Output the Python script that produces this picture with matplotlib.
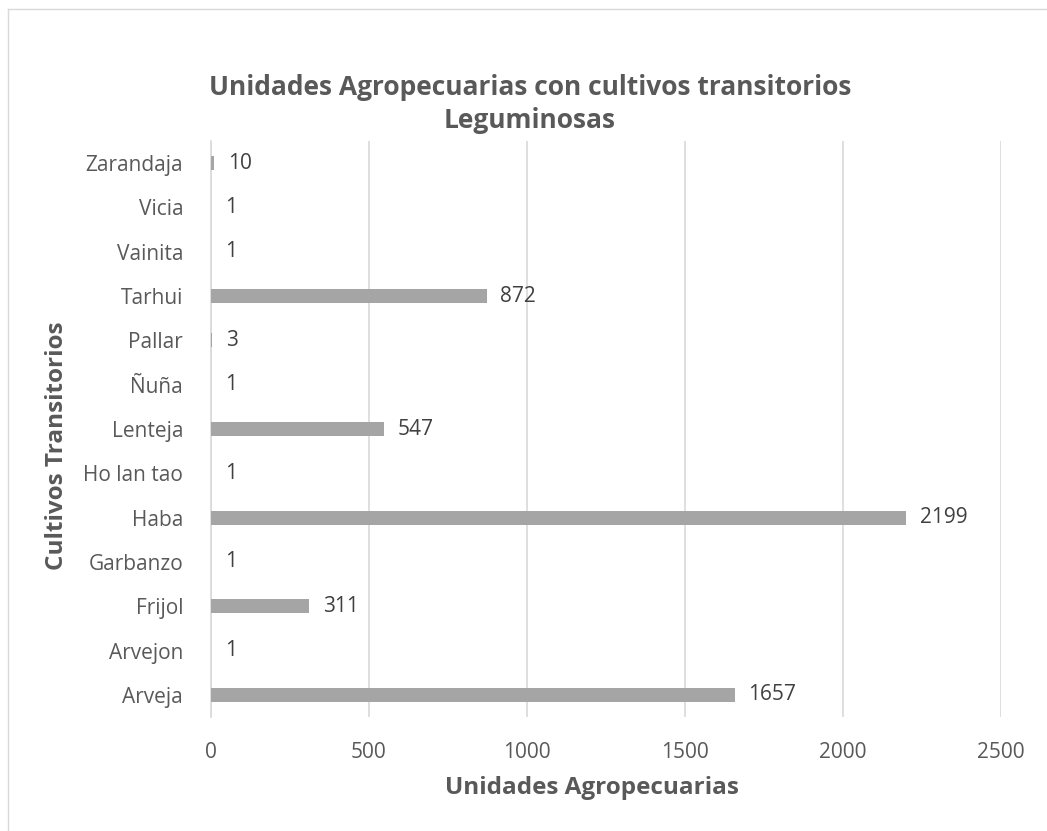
import matplotlib
matplotlib.use("Agg")
import matplotlib.pyplot as plt
from matplotlib.lines import Line2D

categories = ["Arveja", "Arvejon", "Frijol", "Garbanzo", "Haba", "Ho lan tao",
              "Lenteja", "Ñuña", "Pallar", "Tarhui", "Vainita", "Vicia", "Zarandaja"]
values = [1657, 1, 311, 1, 2199, 1, 547, 1, 3, 872, 1, 1, 10]
xticks = [0, 500, 1000, 1500, 2000, 2500]

plt.rcParams['font.family'] = ['Open Sans', 'DejaVu Sans']
text_col = '#595959'

W, H = 1047, 831
fig = plt.figure(figsize=(W / 100, H / 100), dpi=100)
# outer chart border (top and left edges visible)
fig.add_artist(Line2D([8 / W, 1.0], [1 - 9 / H, 1 - 9 / H], transform=fig.transFigure,
                      color='#d9d9d9', linewidth=1))
fig.add_artist(Line2D([8 / W, 8 / W], [0.0, 1 - 9 / H], transform=fig.transFigure,
                      color='#d9d9d9', linewidth=1))

ax = fig.add_axes([211 / W, 1 - 717 / H, 790 / W, 576 / H])

y = list(range(len(categories)))
ax.barh(y, values, height=0.32, color='#a5a5a5', zorder=3)
for yi, v in zip(y, values):
    ax.annotate(str(v), (v, yi), xytext=(10, 0), textcoords='offset points',
                va='center', ha='left', fontsize=15, color='#404040')

ax.set_xlim(0, 2500)
ax.set_ylim(-0.5, len(categories) - 0.5)
ax.set_xticks(xticks)
ax.set_yticks(y)
ax.set_yticklabels(categories)
ax.tick_params(axis='both', length=0, labelsize=15, colors=text_col)
ax.tick_params(axis='y', pad=20)
ax.tick_params(axis='x', pad=18)
ax.grid(axis='x', color='#d9d9d9', linewidth=1.2, zorder=0)
for s in ['top', 'right', 'bottom']:
    ax.spines[s].set_visible(False)
ax.spines['left'].set_color('#d9d9d9')
ax.spines['left'].set_linewidth(1.2)

ax.set_xlabel('Unidades Agropecuarias', fontsize=17.5, fontweight='bold', color=text_col)
ax.set_ylabel('Cultivos Transitorios', fontsize=17.5, fontweight='bold', color=text_col)
ax.xaxis.set_label_coords((592 - 211) / 790, (717 - 788) / 576)
ax.yaxis.set_label_coords((57 - 211) / 790, (717 - 446) / 576)
ax.xaxis.label.set_va('center')
ax.yaxis.label.set_va('center')

fig.text(530 / W, 1 - 104 / H, 'Unidades Agropecuarias con cultivos transitorios\nLeguminosas',
         ha='center', va='center', fontsize=19, fontweight='bold', color=text_col, linespacing=1.25)

fig.savefig('out.png', dpi=100)
